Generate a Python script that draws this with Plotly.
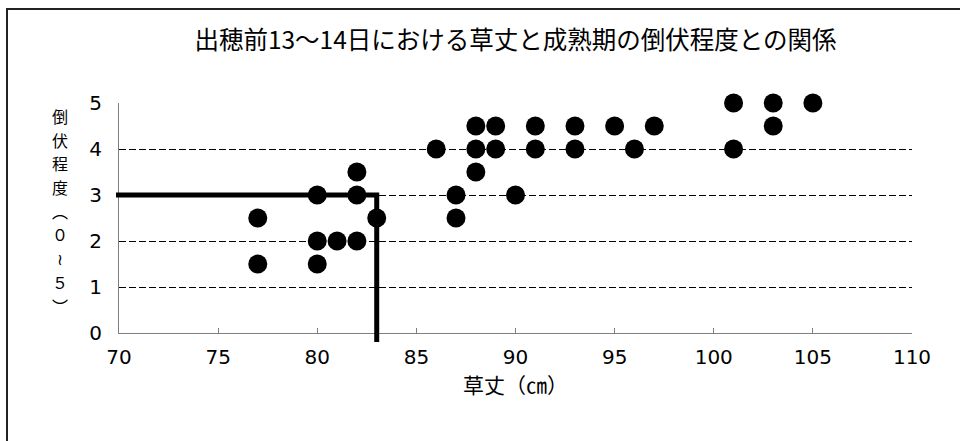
import plotly.graph_objects as go

# Data
plant_height = [77, 77, 80, 80, 80, 81, 82, 82, 82, 83, 86, 87, 87, 88, 88, 88,
                89, 89, 90, 91, 91, 93, 93, 95, 96, 97, 101, 101, 103, 103, 105]
lodging = [2.5, 1.5, 3, 2, 1.5, 2, 3.5, 3, 2, 2.5, 4, 3, 2.5, 4.5, 4, 3.5,
           4.5, 4, 3, 4.5, 4, 4.5, 4, 4.5, 4, 4.5, 5, 4, 5, 4.5, 5]

threshold_x = [70, 83, 83]
threshold_y = [3, 3, 0]

x_ticks = [70, 75, 80, 85, 90, 95, 100, 105, 110]
y_ticks = [0, 1, 2, 3, 4, 5]

title_text = "出穂前13～14日における草丈と成熟期の倒伏程度との関係"
x_title = "草丈（㎝）"
y_title_chars = ["倒", "伏", "程", "度", "︵", "０", "≀", "５", "︶"]

FONT = "DejaVu Sans, Noto Sans CJK JP, sans-serif"
CJK = "Noto Sans CJK JP, DejaVu Sans, sans-serif"

fig = go.Figure()

fig.add_trace(go.Scatter(
    x=threshold_x, y=threshold_y, mode="lines",
    line=dict(color="black", width=5),
    hoverinfo="skip", showlegend=False,
))

fig.add_trace(go.Scatter(
    x=plant_height, y=lodging, mode="markers",
    marker=dict(color="black", size=19, line=dict(width=0)),
    cliponaxis=False, showlegend=False,
))

W, H = 960, 441
ml, mr, mt, mb = 119, 48, 103, 108
pw = W - ml - mr
ph = H - mt - mb

fig.update_layout(
    width=W, height=H,
    margin=dict(l=ml, r=mr, t=mt, b=mb, pad=0),
    paper_bgcolor="white", plot_bgcolor="white",
    font=dict(family=FONT, color="black"),
    title=dict(text=title_text, x=(pw / 2 + ml) / W, xanchor="center",
               y=1 - 40 / H, yanchor="middle",
               font=dict(size=24.5, family=CJK)),
    xaxis=dict(range=[70, 110], tickvals=x_ticks, ticktext=[str(v) for v in x_ticks],
               showgrid=False, zeroline=False,
               showline=True, linecolor="#7f7f7f", linewidth=1,
               ticks="inside", ticklen=5, tickcolor="#7f7f7f", tickwidth=1,
               tickfont=dict(size=20, family=FONT), ticklabelstandoff=6,
               title=dict(text=x_title, font=dict(size=21, family=CJK),
                          standoff=6)),
    yaxis=dict(range=[0, 5], tickvals=y_ticks, ticktext=[str(v) for v in y_ticks],
               showgrid=True, gridcolor="black", gridwidth=1, griddash="7px,3px",
               zeroline=False,
               showline=True, linecolor="#7f7f7f", linewidth=1,
               ticks="", tickfont=dict(size=20, family=FONT), ticklabelstandoff=12),
)

# small extensions of the threshold line beyond the axes (as in the reference)
fig.add_shape(type="line", xref="x", yref="y domain",
              x0=threshold_x[1], x1=threshold_x[2], y0=0, y1=-9 / ph,
              line=dict(color="black", width=5))
fig.add_shape(type="line", xref="x domain", yref="y",
              x0=-3 / pw, x1=0, y0=threshold_y[0], y1=threshold_y[1],
              line=dict(color="black", width=5))

# vertical y-axis title, one character per line
char_top, char_step = 116, 23.7
for i, ch in enumerate(y_title_chars):
    fig.add_annotation(
        text=ch, xref="paper", yref="paper",
        x=(60 - ml) / pw, y=(H - mb - (char_top + i * char_step)) / ph,
        xanchor="center", yanchor="middle",
        borderpad=0, borderwidth=0,
        showarrow=False, font=dict(size=16, family=CJK),
    )

# outer frame of the chart area (extends beyond the window on right/bottom)
fig.add_shape(
    type="rect", xref="paper", yref="paper",
    x0=(7 - ml) / pw, x1=(W + 20 - ml) / pw,
    y0=-(mb + 20) / ph, y1=(H - mb - 9) / ph,
    line=dict(color="#222222", width=2), fillcolor="rgba(0,0,0,0)", layer="below",
)

fig.write_html(
    "out.html",
    config={"displayModeBar": False},
    post_script="document.body.style.margin='0';document.body.style.overflow='hidden';",
)
